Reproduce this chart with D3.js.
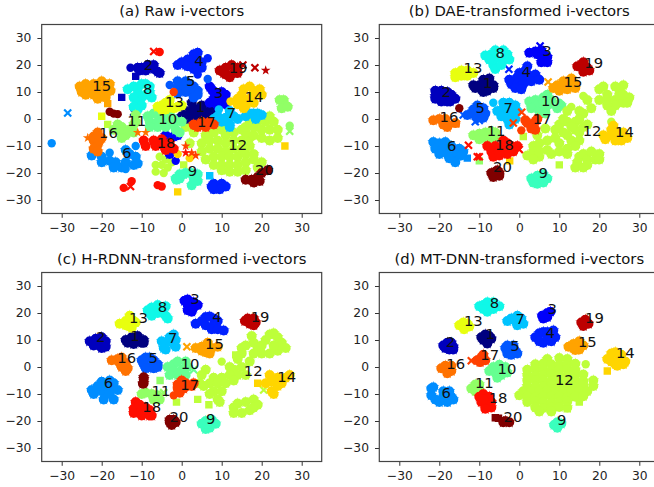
<!DOCTYPE html>
<html><head><meta charset="utf-8">
<script src="https://cdnjs.cloudflare.com/ajax/libs/d3/7.8.5/d3.min.js"></script>
<style>html,body{margin:0;padding:0;background:#fff;overflow:hidden}svg{display:block}text{font-family:"DejaVu Sans",sans-serif;fill:#111}</style>
</head><body><svg id="c" width="654" height="487"></svg>
<script>
// colours for cluster 1..20
const clusterColors=["#000080","#0000BD","#0000FA","#0021FF","#0057FF","#008DFF","#00C3FF","#0FF8E8","#3AFFBD","#66FF91","#91FF66","#BDFF3A","#E8FF0F","#FFD500","#FFA300","#FF7200","#FF4000","#FF0E00","#BD0000","#800000"];
const tickValues=[-30,-20,-10,0,10,20,30];
// rows: cluster, marker (s star, c circle, q square, x cross), flat x,y readings
const rawMarks=[
[12,"s",[6,-6,8,-5,10,-4,11,-6,13,-5,15,-4,5,-9,7,-8,9,-8,11,-9,13,-8,15,-8,17,-7,5,-12,7,-11,9,-11,11,-12,13,-11,15,-11,17,-10,6,-15,8,-14,10,-14,12,-14,14,-14,16,-13,18,-13,8,-17,10,-17,12,-17,14,-17,16,-16,18,-15,20,-16,10,-19,12,-19.5,14,-19.5,16,-19,19,-18,16,-5,18,-6,20,-7,22,-8,24,-7,16,-3,18,-3,20,-4,22,-4,24,-4,17,-1,19,-1,21,-1,23,-1,22,1,20,0,3,-5,1,-3,2,-9]],
[12,"c",[-4,-15,-5.5,-14,-6.5,-17,-6.5,-19.5,-4.5,-20,-3.5,-18,-5,-17,-2.5,-16]],
[12,"q",[0.5,-17,-18.5,-2]],
[1,"s",[1,3,3,4,5,5,7,4,0,1,2,2,4,2,6,2,8,2,1,0,3,0.5,5,0,7,0.5,2.5,6,5,3.5]],
[1,"x",[-12,2.5]],[2,"q",[-15,8,-11.5,15.8]],
[2,"s",[-10,19,-8.5,20,-7,20,-9,18,-7,18.5,-6,17.5,-5.5,17,-10.5,18,-11,19]],[2,"c",[-12.8,19]],
[3,"s",[7,12,7.5,11,8,10,9,9,10,10,11,9,10,7,9,6,7,6,8,7.5,11,7,11,5.5,9,5]],
[4,"s",[3,24,3.5,22.5,1.5,22,0,21,-1,20,1,20,3,20,5,21,5,19,3,18.5,1.5,19.5,4,24.5,8,-24,9,-25,10,-24,11,-25,9.5,-26,8,-26,7.5,-25]],[4,"c",[6.5,22.5,4,16.5]],
[5,"s",[-1,14,1,14,2,13,0.5,12,-1,12,3,12,4,10.5,2,10.5,4,9,1,10,-1,9.5,3,8]],[5,"c",[-3,12.6,6.5,14.8]],
[3,"s",[-4,-6,-2,-6.5,-1,-6,-3,-13]],[3,"c",[-1.5,-15.5]],
[6,"s",[-22.5,-13.5,-20,-14,-18,-15.5,-16.5,-16,-15,-18,-17,-18,-14,-16,-12,-17,-11,-16.5,-11.5,-14,-13,-13,-14,-11.5,-20,-16]],
[6,"c",[-11.5,-10,-18,-12.5,-14,-18.5,-32.5,-9]],[6,"x",[-28.5,2.2]],
[7,"s",[9,1,8,0,10,-1,11,0.5,12,-2,13,1,14,0,12,3,16,1,18,2,19,2,20,1.5,18.5,0.5,12,-3,17,2,18.5,0]],[7,"c",[9.3,3.5]],[7,"q",[7,-21]],
[8,"s",[-13.5,11,-12,12,-11,11,-10,13,-9,13,-8,12,-8,10,-7.5,8,-9,9,-10,8,-11,9,-12,8,-11,6,-10,5,-12,4.5,-11,3.5]],
[9,"s",[-1.5,-22,-0.5,-20.5,1,-20,2.5,-20,4,-20.5,4,-23,2.5,-24.5,-0.5,-22,3,-22,-1.3,-22.5,0.5,-20.5,3.5,-22.5]],
[10,"s",[-8.5,1,-7,2,-5,1.5,-3,2,-2,0,-8,-1,-6,-1,-4,-1,-2,-2,0,-1,-6,-3,-4,-3,-1.5,-4,-0.5,-5,-8,-3]],
[11,"s",[-16,-2,-15,-3,-17,-4,-15,-5,-14,-6,-15,-7,-13,-4,-12,-5,-12,-2,-11.5,-1,-11.5,1.5,24.5,7,25.5,7,26,5,25,4,26.5,4.5]],[11,"c",[27,-2.5]],[11,"x",[27,-4.5]],
[13,"s",[-6,4.5,-5,5,-4,6,-3,7,-3,5,-2,4,-1,4.5,-4,3.5,-5,3.5,0,5]],[13,"q",[-20,1]],
[14,"s",[14,5.5,15.5,4,16,7,15,9,15.5,11,17,12,18,10.5,19.5,11,20,9,18,9,17,7.5,18,6,16,5,14,7.5]],[14,"c",[12.2,6.5,-1,-13,2,-14.5]],[14,"q",[25.8,-10,-1,-27]],
[15,"s",[-25.5,12,-24,13,-22,13,-20,14,-18,13,-25,10,-23,11,-21,11,-19,11,-17.8,10.5,-24,9,-22,9,-20,9,-21,7.5,-19,8]],[15,"q",[-18.5,5.7]],
[16,"s",[-22,-6.5,-21,-5,-20,-7,-22,-8,-21,-9.5,-22,-11,-21,-12,-20.5,-8]],[16,"c",[-21,-6]],
[16,"t",[-23.5,-7,-11,-5,-9,-5]],
[17,"s",[3,-2,5,-1,7,-1,8,-2,4,-3,6,-3]],[17,"t",[1,-10,2.5,-12.5,3.5,-13.5]],[17,"c",[-2,10,3,-2.5]],
[18,"s",[-9.5,-8,-7,-8,-5,-7.5,-9,-10,-6.5,-10,-4.5,-10,-3,-9,-2,-11,-4,-11.5]],[18,"t",[1,-12.5]],[18,"x",[-7,25,-12.8,-25]],[18,"c",[-5.5,24.8,-12.5,-23,-14.5,-25.5,-6,-24.5,-5,-25]],
[19,"s",[9.5,18,11,19,12.5,20,14,19,13,17,11,16.5,12,15.5,14,17,10.5,17]],[19,"t",[21,18]],[19,"x",[18.3,19,15.3,20]],
[20,"s",[16,-22.5,17.5,-22.5,18,-23.5,19,-21.5,20,-20,21.5,-19,19.5,-23]],[20,"c",[-18,2.7,-17,2,-16,1.8]]
];
const rawLabels=[[1,4.7,4.7],[2,-8.3,20.1],[3,9.2,9.9],[4,4.3,21.6],[5,2.25,14.2],[6,-13.75,-12.4],[7,12.4,2.2],[8,-8.5,11.1],[9,2.7,-19],[10,-3.5,0],[11,-11.25,-0.6],[12,14,-9.4],[13,-1.8,6.3],[14,18.1,8.4],[15,-20,12.3],[16,-18.3,-5],[17,6.2,-0.9],[18,-3.9,-8.9],[19,14.1,18.9],[20,20.7,-18.8]];
const daeMarks=[
[1,"s",[-11,11.5,-9.5,11,-8,10.5,-6.5,11.5,-8,13,-9,14.5,-7.5,15,-10,12.5,-11.5,12.5,-6.5,12.5,-9,10]],
[2,"s",[-21,10.5,-19.5,10.5,-18,10,-17,9,-21,8.5,-19.5,8,-18,7.5,-16,7.5,-19.5,6.5,-18,6.5,-21,7.5,-17.3,6.5]],
[3,"s",[2.5,24.5,4,25,5.5,25.5,6,24,7,23,6,22,7,21,5.5,21,4.5,24]],[3,"x",[5.2,27]],
[4,"s",[2,19.5,1.5,18,0,17,-0.5,15.5,1,15,2.5,16,4,16.5,-2.5,14.5,-2,13,-0.5,13,1,13,-1,11.5,0.5,11,3,14,5,14.5]],[4,"x",[-2.6,18.4,4.5,15]],
[5,"s",[-9,4,-10.5,5,-11.5,3.5,-10,2.5,-12,2,-13,1.5,-8.5,2,-10.5,0.5,-9,0.5]],[5,"x",[-14,1.5,-11,-1,-10,-0.5]],
[6,"s",[-21.5,-8.5,-20,-9,-18.5,-8.5,-21,-11,-19,-11,-17,-10,-15,-11,-14,-12,-20,-13,-18,-13,-16,-13,-14.5,-13.5,-16,-16,-17.5,-14.5]],[6,"q",[-13,-14.5]],
[7,"s",[-4,6,-2.5,6,-1,5,-4,4,-2,3.5,-5.5,3,-3.5,2,-1.5,2,-0.5,3,-3,0,-2.5,-2,-1,0,-4.5,1]],[7,"c",[-6.5,6]],
[8,"s",[-8.5,23.5,-7,24,-6,25.5,-4,25.5,-3,24,-4,22,-6,22.5,-6.5,20,-6,18.5,-7.5,22,-4.5,20,-2.5,22]],
[9,"s",[3,-22,4.5,-21,6,-20.5,7,-22,6,-23.5,4.5,-24,5.5,-22,3.5,-23.5]],
[10,"s",[2.5,6.5,4,7,6,8,7,9,4.5,5,6,6,7.5,5.5,3,4,5,3,6.5,3.5,8,7,10.5,5,9.5,4,6.5,2]],[10,"c",[10,6]],
[11,"s",[-11.5,-6,-10,-5.5,-8.5,-5,-7,-4.5,-6,-5,-10,-7.5,-8.5,-7,-7,-7,-6,-6.5]],[11,"q",[-10,-15.5]],
[12,"s",[4.5,-6,3.5,-10,5,-9,2,-13.5,3.5,-12,5,-14,5,-12,3.5,-15,7,-11.5,8,-13,7,-8,6.5,-3.5,9,-4,10,-2,12,-1,14,-1,15,0,16,2,15,3,12,3,11,0,9,-7,10,-9,12,-6,11,-5,14,-4,13,-3,15,-5,16,-3,13,-8,15,-8,12,-11,10,-12,12,-13,14,-10,17,-2,15,-14,14.5,-16,14,-18,16,-13,17,-15,19,-15,20,-13,20,-15,17,-17,16,-18,18,-12,17,7,18,4,20,11,21,12,22,9,20,7,22,7,24,7,24,5,26,6,27.5,8,27,6,25,9,25,11,26,12.5,24,12,26,9,22,5,23,3]],
[12,"c",[13,4.5,16,8.5,23,-1]],[12,"q",[1,-6.5,10,-17]],
[13,"s",[-16,17,-16,15.5,-14.5,16,-13,16,-11.5,17,-13,18,-14.5,18]],
[14,"s",[21,-6,23,-4,23.5,-2.5,23,-6,24.5,-5,26,-5,27,-7,25.5,-8,24,-8,21.5,-7.5]],[14,"q",[-2.4,-15.5]],
[15,"s",[8.5,11.5,9.5,12.5,11,14,11,12,12.5,13,14,13,14,11.5,12,11,10,10.5,13,15]],[15,"x",[7.2,13.7]],
[16,"s",[-21.5,-0.5,-20,0,-18.5,0,-18,-2,-16,-1.5,-19,-2,-18,-3]],[16,"q",[-15.8,-1.8]],
[17,"s",[2,-1.5,3,-2,4,-1,4.5,0,3,-3.5,4,-4,1.5,-0.5]],[17,"c",[0.5,-4.2]],[17,"x",[-1.5,-1.5,0.6,2.5]],
[18,"s",[-8,-10,-6,-10,-7,-12,-5,-12,-6.5,-14,-4,-11,-3,-9,-4,-8,-2,-10,-1.5,-12,-3,-13,-5,-13.5,-0.5,-10]],[18,"x",[0,-11.3,-12.7,-9.7,-10.5,-14,-10,-14]],
[19,"s",[14.5,19.5,15.5,20,16,21,17,19,17.5,18,16,18.5,16,17.5]],
[20,"s",[-7,-20,-6,-19.5,-5,-20,-5,-21,-6.5,-21.5,-5.5,-19]],[20,"c",[-15,4]]
];
const daeLabels=[[1,-7.9,13.6],[2,-18.25,10.2],[3,6.9,25.3],[4,1.75,17.7],[5,-9.75,4.1],[6,-16.9,-9.75],[7,-2.8,4.1],[8,-4.75,24.4],[9,6,-20],[10,7.8,6.8],[11,-5.8,-4.3],[12,18.2,-4.2],[13,-11.6,18.9],[14,26.3,-4.7],[15,13.4,14],[16,-17.6,1],[17,5.7,0.1],[18,-3.7,-9.5],[19,18.6,20.7],[20,-4.2,-17.8]];
const rdnnMarks=[
[1,"s",[-14,10,-12.5,11,-11,11.5,-9.5,10,-10,9,-12,8.5,-13.5,9,-11,10,-9.5,9]],
[2,"s",[-23,9.5,-21.5,10.5,-20,11,-19,9.5,-21,8.5,-22,8,-20,7,-19,7.5,-20.5,9]],
[3,"s",[0.7,24.5,1.5,25,3,24,4,23,3,22,1.5,21,2.5,20.5,1.5,23]],
[4,"s",[3.5,16,5,17,6,18.5,8,18,9,17,8,15.5,6,15.5,7.5,14,9,14,10.5,13.5,7,18.7]],
[5,"s",[-10,2.5,-9,3.5,-8,3.5,-7,2.5,-6,1,-9.5,1,-8,0,-9,-0.5,-7,-0.5,-6,0]],
[6,"s",[-22.5,-8.5,-21,-7,-20,-5.5,-18,-5,-17,-6,-16,-8.5,-18,-8,-20,-9,-22,-10,-19.5,-12,-17,-12,-18,-10,-20,-7]],
[7,"s",[-5,9.5,-4,9,-2.5,9.5,-2,12,-2,8.5,-1.5,7.5,-4.5,7,-4,6.5,-3,11,-1.5,10]],
[8,"s",[-8.5,21,-7.5,22,-6,23,-4,22.5,-4,19,-3.5,18,-6,20,-7.5,19,-5,20.5,-8,20]],
[9,"s",[5,-21,6,-20,7.5,-19.5,8.5,-21,7,-22.5,6,-23,6.5,-21]],
[10,"s",[-3.5,0,-2,1,-1,2,1,2,1.5,0,0,-1,-2,-1.5,-3,-3,-1,-3,1,-3]],[10,"x",[3,-1]],
[11,"s",[-10,-10,-9,-9.5,-7.5,-10,-6,-10.5,-7,-12,-5.5,-12]],[11,"x",[-4.5,-9.5]],[11,"q",[-5.4,-5]],
[12,"s",[15,7,16,8,17.5,11.5,18,9,19,7,20,8,21,10,22,12,23,12.5,24,11,25,9,26,7,24,6,22,5,20,5,23,8,18,5,15,5,14,3,12,0,13,-1,15,0,17,2,16,-3,14,-3,12,-3,10,-4,8,-4,6,-1,5,-3,7,-6,9,-6,11,-6,13,-5,5.5,-7,8,-9,10,-9,4.5,-6,9,-12,7,-10,9.5,-13,13,-15,14,-13.5,16,-13,18,-12,19,-14,17,-16,15,-17,13,-17,18,-15]],
[12,"c",[10,2]],[12,"q",[13.5,4.5,4,-12,6.8,-14,-1.3,-13]],[12,"x",[20.5,-8.5]],
[13,"s",[-15.5,16,-14,17,-13,19,-12,17,-11.5,16.5,-13,15,-12.5,14.5,-14,15.5]],
[14,"s",[21,-6,22.5,-5.5,22,-3,24,-4,26,-4,27,-3,25,-6,24,-7,22.5,-9,23,-10]],[14,"q",[19,-6]],
[15,"s",[3.5,7,5,7.5,6.5,9,7.5,7,9,7.5,6,5.5,7,5,5,6]],[15,"x",[1.3,7.5]],
[16,"s",[-17.5,2.5,-16,3,-15,3.5,-14,1.5,-13.5,-0.5,-15,0,-14,-1.5,-15.5,1.5]],
[17,"s",[-1,-6.5,0,-5,1,-6,-1,-8,-0.5,-9.5,0.5,-8,2.5,-7,3,-6,1,-7]],[17,"c",[-2,-10.5]],
[18,"s",[-11.5,-13,-12,-15.5,-12,-17,-10.5,-14,-10,-16,-10,-18,-8,-16,-8,-18,-7.5,-18,-9,-15]],
[19,"s",[15.8,17,16.5,18,18,18,18.5,16.5,17,16,18,15.5]],
[20,"s",[-3,-20.5,-2,-19.5,-1.5,-20.5,-2.5,-21.5,-3,-19.5,-9.5,-4.5,-9.5,-6,-9.5,-3.8,-9.7,-6.2]]
];
const rdnnLabels=[[1,-11.7,11.7],[2,-20.25,11.4],[3,3.3,25.3],[4,8.8,18.5],[5,-7.1,3.5],[6,-18.3,-5.9],[7,-2.25,10.7],[8,-4.8,22.2],[9,7.25,-19.1],[10,2.1,1.2],[11,-5.2,-8.6],[12,17.9,-1.4],[13,-10.8,18.3],[14,26.25,-3.6],[15,8.2,8.8],[16,-13.75,3.5],[17,2,-6.4],[18,-7.5,-14.7],[19,19.6,18.8],[20,-0.7,-18.4]];
const mtMarks=[
[1,"s",[-9.5,11,-8.5,12,-7.5,11.5,-7,10.5,-8,9.5,-9,10,-8,8.7]],
[2,"s",[-19,8,-18,9,-17,9,-16.5,7.5,-17.5,6.5,-18.5,7,-16.5,6.5]],
[3,"s",[5.7,19,7,20,7.8,20.5,7,18.5,6,18]],
[4,"s",[4,11,5,12.5,6,13,7,13,8.5,13.5,9,11,8,10,6,9,5,9.5,7,11,8,9.5]],
[5,"s",[-3.5,7,-3,8,-1.5,8,-1,6,-0.5,5,-3,5,-2,4.5]],
[6,"s",[-22,-8,-22,-10.5,-21,-12,-19,-9,-17.5,-9,-17,-11,-18,-13,-20,-13,-16.5,-12,-19,-11,-21.5,-7.5]],
[7,"s",[-3,17,-2,18,-0.5,19,0.5,18,1,16,-0.5,15.5,-1,17]],
[8,"s",[-10,22.5,-9,23,-8,24,-6.5,24,-5,22.5,-6.5,21.5,-8,20.5,-9,21.5,-7,22]],
[9,"s",[8.7,-21.5,9.5,-20.5,10.5,-21,9.5,-22.5]],
[10,"s",[-7.5,-1.5,-6.5,0,-5,0.8,-3.5,0,-3,-2,-4.5,-3,-5.5,-4,-6,-2,-4,-1.5]],
[11,"s",[-12,-8,-11,-6.5,-10,-6.5,-10,-8.5,-11,-9]],
[12,"s",[7,3,10,3.3,12,3,4,1,6,1.3,8,1,10,0.8,12,1,14,1.2,2,-1,4,-0.7,6,-1,8,-1.2,10,-1,12,-0.8,14,-1,2,-3,4,-3.2,6,-3,8,-2.8,10,-3,12,-3.2,14,-3,16,-2.8,2,-5,4,-4.8,6,-5,8,-5.2,10,-5,12,-4.8,14,-5,16,-5.2,18.5,-5,2,-7,4,-7.2,6,-7,8,-6.8,10,-7,12,-7.2,14,-7,16,-6.8,18.5,-7,1,-9,3,-9.2,5,-9,7,-8.8,9,-9,11,-9.2,13,-9,15,-8.8,17,-9,0,-10.5,2,-11,4,-11.2,6,-11,8,-10.8,10,-11,12,-11.2,14,-11,16,-10.8,2,-13,4,-12.8,6,-13,8,-13.2,10,-13,12,-12.8,4,-15,6,-15.2,8,-15,10,-14.8,12,-15,5,-16.5,8,-16.5]],
[12,"c",[16.6,1]],[12,"q",[15,-13,12,-15.5]],
[13,"s",[-15,15.5,-14,16.5,-13,16,-12.5,15,-13.8,14]],
[14,"s",[22,3,23,5,24,5.5,25.5,4.5,26.5,2,26,1,24,1,23,2,25,3,24.5,0.5]],[14,"q",[22,-1.5]],
[15,"s",[12.3,7.5,13.5,8.5,15,9.5,16,8,15,6.5,14,6.3,13.5,7]],
[16,"s",[-19.5,-0.5,-18.5,0.5,-17,0.5,-17.5,-1,-18,-2.3,-17,-1.5]],
[17,"s",[-10.5,2.5,-9.5,3.5,-9,4.5,-8.5,2.5,-9.8,1.8]],[17,"x",[-12,2.3]],
[18,"s",[-10,-11,-9,-10,-7.5,-11,-7,-13,-8,-14,-9.5,-13,-7,-15,-8.5,-15.5,-9,-12]],
[19,"s",[15.5,16.5,16.5,17.5,17.3,16,16,15.2]],
[20,"s",[-4,-20.5,-3.5,-20,-2.5,-20.5]],[20,"q",[-6,-18.8,-5.2,-19]]
];
const mtLabels=[[1,-7.25,12.3],[2,-17.2,9.3],[3,8.2,21.6],[4,7.7,12.7],[5,-1.1,8],[6,-18.25,-9.5],[7,0.25,17.9],[8,-6.2,23.8],[9,10.6,-19.6],[10,-3.1,-0.6],[11,-8.75,-5.8],[12,11.25,-4.6],[13,-11.5,17],[14,26.5,5.2],[15,17,9.4],[16,-15.9,1.1],[17,-7.4,4.7],[18,-5.3,-11.5],[19,18.8,18.1],[20,-1.6,-18.3]];
const panelTitles=["(a) Raw i-vectors","(b) DAE-transformed i-vectors","(c) H-RDNN-transformed i-vectors","(d) MT-DNN-transformed i-vectors"];

const layouts=[{l:41.7,t:24.5},{l:379.3,t:24.5},{l:41.7,t:272.5},{l:379.3,t:272.5}];
const W=280,H=189;
const panels=[[rawMarks,rawLabels],[daeMarks,daeLabels],[rdnnMarks,rdnnLabels],[mtMarks,mtLabels]];
const svg=d3.select("#c");
const star=s=>d3.symbol().type(d3.symbolStar).size(s)();
const disc=s=>d3.symbol().type(d3.symbolCircle).size(s)();
// "s" = a star dab on a solid core (dense cluster look); "t" = a single lone star
const sym={s:star(44)+disc(78),t:star(30),c:disc(55),q:d3.symbol().type(d3.symbolSquare).size(55)(),x:d3.symbol().type(d3.symbolTimes).size(34)()};
panels.forEach(([marks,labels],i)=>{
  const L=layouts[i];
  const x=d3.scaleLinear([-35,35],[0,W]),y=d3.scaleLinear([-35,35],[H,0]);
  const g=svg.append("g").attr("transform",`translate(${L.l},${L.t})`);
  const id="clip"+i;
  g.append("clipPath").attr("id",id).append("rect").attr("width",W).attr("height",H);
  const pts=g.append("g").attr("clip-path",`url(#${id})`);
  marks.forEach(([c,m,v])=>{
    const col=clusterColors[c-1],xy=d3.pairs(v).filter((_,k)=>k%2==0);
    pts.selectAll(null).data(xy).join("path")
      .attr("d",sym[m]).attr("transform",d=>`translate(${x(d[0])},${y(d[1])})`)
      .attr("fill",m=="x"?"none":col).attr("stroke",col).attr("stroke-width",m=="x"?2.2:0);
  });
  g.selectAll(null).data(labels).join("text").attr("x",d=>x(d[1])).attr("y",d=>y(d[2])).attr("dy","0.36em")
    .attr("text-anchor","middle").attr("font-size",14.8).text(d=>d[0]);
  const ax=g.append("g").attr("transform",`translate(0,${H})`).call(d3.axisBottom(x).tickValues(tickValues).tickSize(4.3).tickPadding(5.5));
  const ay=g.append("g").call(d3.axisLeft(y).tickValues(tickValues).tickSize(4.3).tickPadding(6));
  [ax,ay].forEach(a=>{a.select(".domain").remove();a.selectAll("text").attr("font-size",12.3).style("font-family",'"DejaVu Sans"').style("fill","#222");a.selectAll("line").attr("stroke","#333").attr("stroke-width",1);});
  g.append("rect").attr("width",W).attr("height",H).attr("fill","none").attr("stroke","#444").attr("stroke-width",1.2);
  g.append("text").attr("x",W/2).attr("y",-8.5).attr("text-anchor","middle").attr("font-size",14.8).text(panelTitles[i]);
});
</script></body></html>
